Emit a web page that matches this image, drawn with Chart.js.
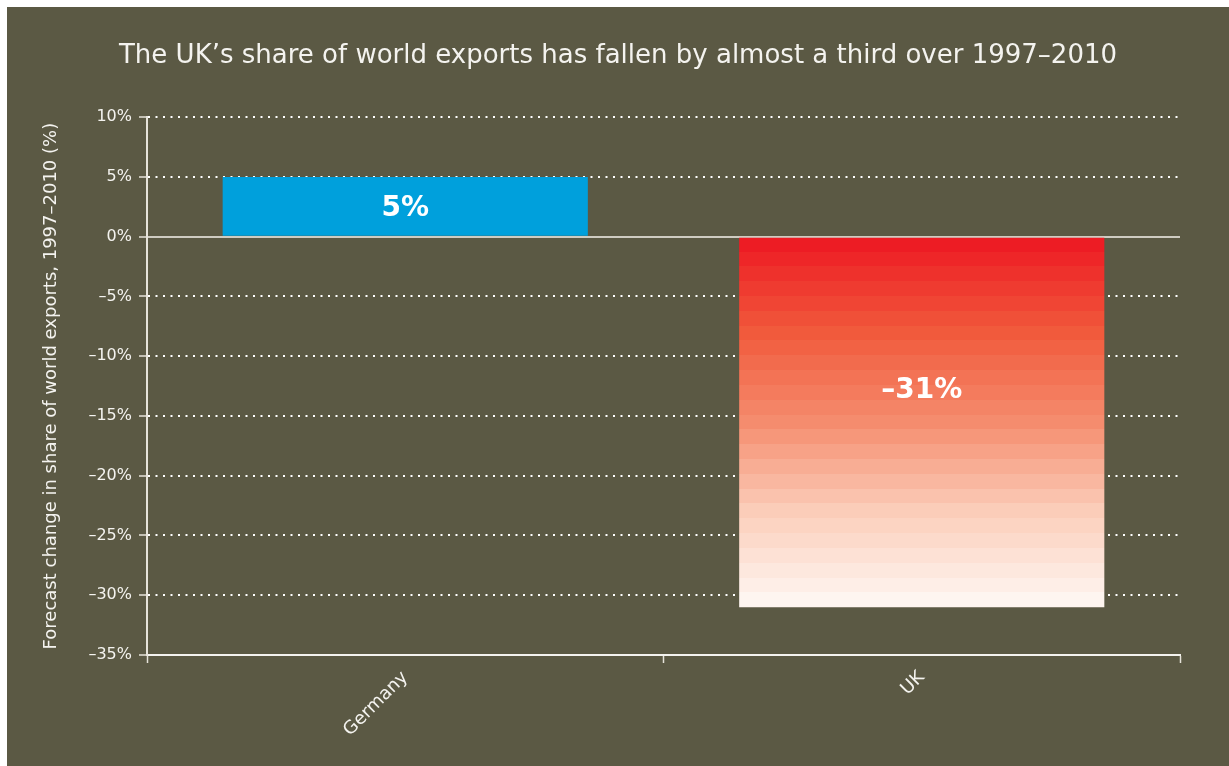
<!DOCTYPE html>
<html>
<head>
<meta charset="utf-8">
<script src="https://cdn.jsdelivr.net/npm/chart.js@4"></script>
<style>
  html, body { margin: 0; padding: 0; background: #ffffff; }
  #wrap { position: absolute; left: 7px; top: 7px; width: 1222px; height: 759px; background: #5b5944; }
</style>
</head>
<body>
<div id="wrap"><canvas id="exportChart"></canvas></div>
<script>
// chart data
const countries = ['Germany', 'UK'];
const shareChange = [5, -31];
const yMin = -35;
const yMax = 10;
const yStep = 5;

const TITLE = 'The UK\u2019s share of world exports has fallen by almost a third over 1997\u20132010';
const Y_TITLE = 'Forecast change in share of world exports, 1997\u20132010 (%)';

const TEXT = '#f4f3ef';
const BLUE = '#00a0dc';
const FONT = 'DejaVu Sans';

// en dash for negatives, like the original
function pct(v) {
    return (v < 0 ? '\u2013' + Math.abs(v) : v) + '%';
}

// banded red -> white fill for the negative bar
function mix(a, b, t) {
    return a.map((c, i) => Math.round(c + (b[i] - c) * t));
}
function bandedFill(ctx, top, bottom) {
    const stops = [[237, 28, 36], [241, 90, 60], [245, 140, 110], [251, 205, 185], [254, 245, 240]];
    const bands = 25;
    const g = ctx.createLinearGradient(0, top, 0, bottom);
    for (let i = 0; i < bands; i++) {
        const t = i / (bands - 1);
        const seg = Math.min(Math.floor(t * (stops.length - 1)), stops.length - 2);
        const local = t * (stops.length - 1) - seg;
        const c = mix(stops[seg], stops[seg + 1], local);
        const col = `rgb(${c[0]},${c[1]},${c[2]})`;
        g.addColorStop(i / bands, col);
        g.addColorStop((i + 1) / bands, col);
    }
    return g;
}

// value labels inside the bars
const barLabels = {
    id: 'barLabels',
    afterDatasetsDraw(chart) {
        const ctx = chart.ctx;
        const meta = chart.getDatasetMeta(0);
        ctx.save();
        ctx.fillStyle = '#ffffff';
        ctx.font = 'bold 28px ' + FONT;
        ctx.textAlign = 'center';
        ctx.textBaseline = 'middle';
        meta.data.forEach((bar, i) => {
            const v = shareChange[i];
            const y = bar.base + (bar.y - bar.base) * (v > 0 ? 0.5 : 0.41);
            ctx.fillText(pct(v), bar.x, y + 2);
        });
        ctx.restore();
    }
};

const ctx = document.getElementById('exportChart').getContext('2d');
new Chart(ctx, {
    type: 'bar',
    data: {
        labels: countries,
        datasets: [{
            data: shareChange,
            backgroundColor: (c) => {
                if (c.dataIndex === 0) return BLUE;
                const chart = c.chart;
                if (!chart.chartArea) return '#f15a3c';
                const y = chart.scales.y;
                return bandedFill(chart.ctx, y.getPixelForValue(0), y.getPixelForValue(shareChange[c.dataIndex]));
            },
            borderWidth: 0,
            barPercentage: 0.707,
            categoryPercentage: 1
        }]
    },
    options: {
        responsive: true,
        maintainAspectRatio: false,
        animation: false,
        layout: { padding: { left: 49, right: 49, top: 0, bottom: 0 } },
        plugins: {
            legend: { display: false },
            tooltip: { enabled: false },
            title: {
                display: true,
                text: TITLE,
                color: TEXT,
                font: { family: FONT, size: 26, weight: 'normal' },
                padding: { top: 34, bottom: 45 }
            }
        },
        scales: {
            x: {
                grid: {
                    offset: true,
                    drawOnChartArea: false,
                    drawTicks: true,
                    tickLength: 8,
                    tickColor: '#e6e3da',
                    tickWidth: 1.5
                },
                border: { display: true, color: '#f4f3ef', width: 2 },
                ticks: {
                    color: TEXT,
                    font: { family: FONT, size: 18 },
                    maxRotation: 45,
                    minRotation: 45,
                    padding: 4
                },
                afterFit: (s) => { s.height = 111; }
            },
            y: {
                min: yMin,
                max: yMax,
                ticks: {
                    stepSize: yStep,
                    color: TEXT,
                    font: { family: FONT, size: 16 },
                    padding: 7,
                    callback: (v) => pct(v)
                },
                grid: {
                    color: (c) => c.tick && c.tick.value === 0 ? '#cfccc2' : (c.tick && c.tick.value === yMin ? 'rgba(0,0,0,0)' : '#ffffff'),
                    lineWidth: 2,
                    drawTicks: true,
                    tickLength: 8,
                    tickColor: '#e6e3da',
                    tickWidth: 1.5,
                    tickBorderDash: []
                },
                border: {
                    display: true,
                    color: '#e6e3da',
                    width: 2,
                    dash: (c) => c.tick && c.tick.value === 0 ? [] : [2, 5.5]
                },
                title: {
                    display: true,
                    text: Y_TITLE,
                    color: TEXT,
                    font: { family: FONT, size: 18 },
                    padding: { top: -15, bottom: 0 }
                },
                afterFit: (s) => { s.width = 91; }
            }
        }
    },
    plugins: [barLabels]
});
</script>
</body>
</html>
